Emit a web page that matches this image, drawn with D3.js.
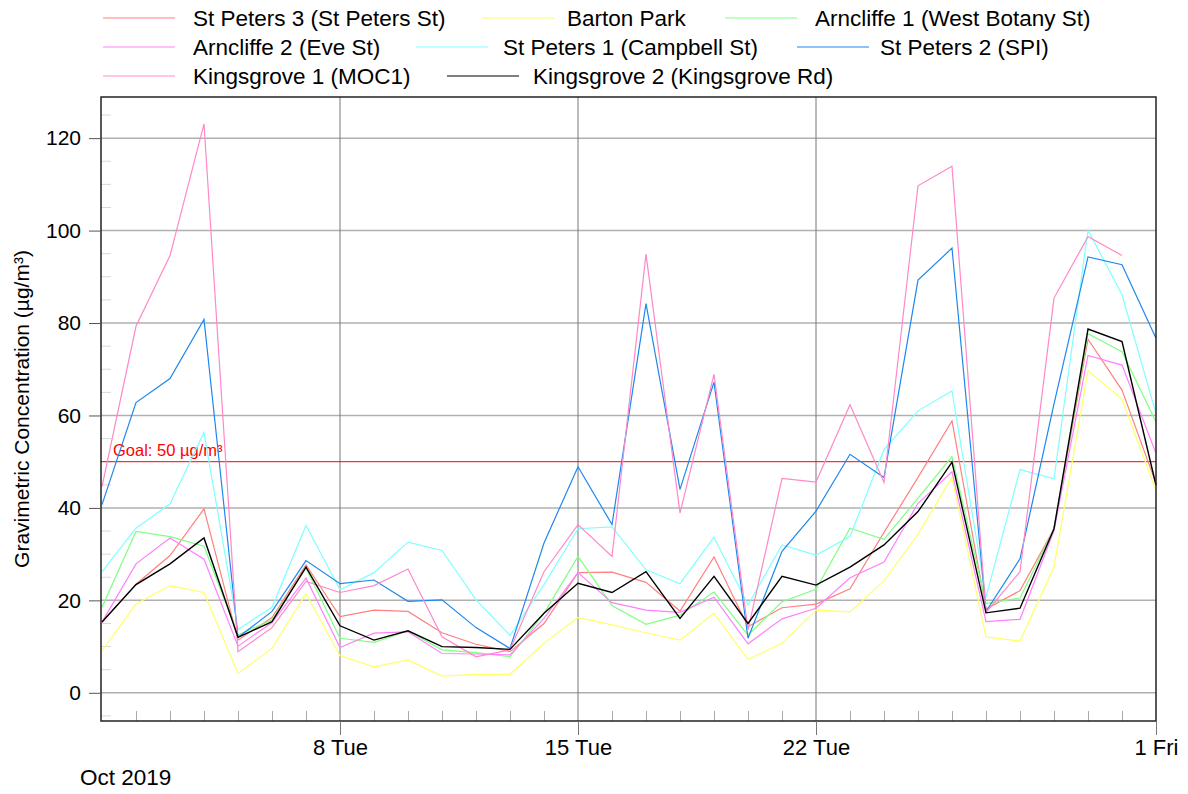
<!DOCTYPE html>
<html lang="en">
<head>
    <meta charset="UTF-8">
    <title>Gravimetric Concentration, Oct 2019</title>
    <script src="https://d3js.org/d3.v7.min.js"></script>
    <style>
        body { margin: 0; background: #fff; font-family: "Liberation Sans", Arial, sans-serif; }
        .series { fill: none; stroke-width: 1.2; stroke-linejoin: miter; }
        .axis text { font-family: "Liberation Sans", Arial, sans-serif; fill: #000; }
    </style>
</head>
<body>
<div id="chart"></div>
<script>
// Daily values, 1 Oct 2019 .. 1 Nov 2019
const days = d3.timeDay.range(new Date(2019, 9, 1), new Date(2019, 10, 2));

const seriesNames = [
    'St Peters 3 (St Peters St)', 'Barton Park', 'Arncliffe 1 (West Botany St)',
    'Arncliffe 2 (Eve St)', 'St Peters 1 (Campbell St)', 'St Peters 2 (SPI)',
    'Kingsgrove 1 (MOC1)', 'Kingsgrove 2 (Kingsgrove Rd)'
];
const seriesColors = ['#ff8080', '#ffff66', '#80ff80', '#ff80ff', '#80ffff', '#1e88ee', '#ff88c8', '#000000'];

const stPeters3   = [15.3, 23.5, 29.7, 39.8, 11.4, 16.3, 27.7, 16.5, 17.9, 17.6, 13.0, 10.5, 8.9, 15.0, 26.0, 26.1, 23.9, 17.7, 29.4, 14.3, 18.4, 19.2, 22.5, 34.7, 46.6, 58.8, 18.1, 22.1, 35.5, 76.5, 65.5, 45.3];
const bartonPark  = [9.1, 19.2, 23.2, 21.7, 4.2, 9.6, 21.5, 8.0, 5.6, 7.1, 3.6, 4.0, 4.0, 10.7, 16.3, 14.7, 13.0, 11.4, 17.2, 7.2, 10.7, 17.9, 17.5, 24.2, 34.3, 46.6, 12.1, 11.2, 27.2, 69.7, 63.5, 43.8];
const arncliffe1  = [18.5, 34.9, 33.8, 31.7, 12.5, 15.8, 27.0, 11.8, 10.9, 13.4, 9.3, 8.7, 7.8, 17.2, 29.5, 18.9, 14.8, 16.8, 21.8, 12.5, 19.7, 22.4, 35.6, 33.2, 42.1, 51.1, 19.3, 20.5, 35.5, 77.7, 73.8, 58.6];
const arncliffe2  = [15.3, 27.9, 33.5, 28.9, 10.1, 15.2, 24.8, 9.8, 12.9, 13.2, 8.5, 8.4, 8.2, 16.1, 26.0, 19.5, 17.9, 17.4, 20.7, 10.6, 16.0, 18.3, 24.9, 28.3, 41.0, 47.8, 15.4, 15.9, 35.1, 73.0, 70.9, 51.8];
const stPeters1   = [26.2, 35.6, 40.9, 56.3, 13.7, 18.5, 36.2, 22.3, 26.0, 32.6, 30.8, 20.1, 12.4, 23.4, 35.5, 35.9, 26.6, 23.6, 33.7, 19.0, 32.0, 29.8, 33.8, 52.6, 61.0, 65.3, 20.7, 48.3, 46.3, 100.1, 86.1, 60.4];
const stPeters2   = [40.7, 62.8, 68.0, 80.8, 12.0, 17.6, 28.6, 23.6, 24.4, 19.8, 20.1, 14.1, 9.6, 32.4, 48.9, 36.4, 84.2, 44.0, 67.2, 11.8, 30.6, 39.3, 51.6, 46.6, 89.3, 96.2, 17.6, 29.0, 62.5, 94.3, 92.6, 76.7];
const kingsgrove1 = [44.6, 79.3, 94.6, 123.1, 8.9, 14.1, 24.1, 21.7, 23.2, 26.8, 12.1, 7.8, 9.3, 26.2, 36.4, 29.5, 94.9, 38.9, 68.9, 13.6, 46.4, 45.6, 62.3, 45.5, 109.7, 113.9, 17.4, 26.2, 85.4, 98.7, 94.6, null];
const kingsgrove2 = [15.3, 23.4, 27.9, 33.5, 12.0, 15.4, 27.2, 14.5, 11.4, 13.4, 10.0, 9.8, 9.4, 17.2, 23.7, 21.7, 26.2, 16.1, 25.2, 15.0, 25.2, 23.3, 27.2, 32.0, 39.2, 49.9, 17.3, 18.3, 35.5, 78.7, 76.0, 44.9];

const seriesValues = [stPeters3, bartonPark, arncliffe1, arncliffe2, stPeters1, stPeters2, kingsgrove1, kingsgrove2];

const yTicks = [0, 20, 40, 60, 80, 100, 120];
const majorDays = [new Date(2019, 9, 8), new Date(2019, 9, 15), new Date(2019, 9, 22), new Date(2019, 10, 1)];
const goalValue = 50;

// Layout
const W = 1188, H = 794;
const plot = { left: 101, right: 1156, top: 97, bottom: 721 };

const svg = d3.select('#chart').append('svg')
    .attr('width', W)
    .attr('height', H);

const x = d3.scaleTime()
    .domain([new Date(2019, 9, 1), new Date(2019, 10, 1)])
    .range([102, plot.right]);
const y = d3.scaleLinear()
    .domain([-6.1, 128.9])
    .range([plot.bottom, plot.top]);

// minor y ticks (every 5)
const minorY = d3.range(-5, 130, 5).filter(v => v % 20 !== 0);
svg.append('g')
    .selectAll('line')
    .data(minorY)
  .enter().append('line')
    .attr('x1', plot.left).attr('x2', plot.left + 10)
    .attr('y1', d => y(d)).attr('y2', d => y(d))
    .style('stroke', '#d8d8d8').style('stroke-width', 1);

// horizontal grid
svg.append('g')
    .selectAll('line')
    .data(yTicks)
  .enter().append('line')
    .attr('x1', plot.left).attr('x2', plot.right)
    .attr('y1', d => y(d)).attr('y2', d => y(d))
    .style('stroke', '#b0b0b0').style('stroke-width', 1.5);

// vertical grid at weekly/major days
svg.append('g')
    .selectAll('line')
    .data(majorDays.slice(0, 3))
  .enter().append('line')
    .attr('x1', d => x(d)).attr('x2', d => x(d))
    .attr('y1', plot.top).attr('y2', plot.bottom)
    .style('stroke', '#777').style('stroke-width', 1);

// minor x ticks (every day)
const minorDays = days.filter(d => !majorDays.some(m => +m === +d) && +d !== +days[0]);
svg.append('g')
    .attr('class', 'axis')
    .attr('transform', `translate(0,${plot.bottom})`)
    .call(d3.axisBottom(x).tickValues(minorDays).tickSize(-10).tickFormat(''))
    .call(g => g.select('.domain').remove())
    .call(g => g.selectAll('.tick line').style('stroke', '#aaa'));

// goal line
svg.append('line')
    .attr('x1', plot.left).attr('x2', plot.right)
    .attr('y1', y(goalValue)).attr('y2', y(goalValue))
    .style('stroke', '#ff0000').style('stroke-width', 1);
svg.append('text')
    .attr('x', 113)
    .attr('y', y(goalValue) - 6)
    .style('font-size', '16.5px')
    .style('fill', '#ff0000')
    .text('Goal: 50 µg/m³');

// series
const line = d3.line()
    .defined(d => d[1] != null)
    .x(d => x(d[0]))
    .y(d => y(d[1]));

svg.append('g')
    .selectAll('path')
    .data(seriesValues)
  .enter().append('path')
    .attr('class', 'series')
    .attr('d', vals => line(days.map((d, i) => [d, vals[i]])))
    .style('stroke', (d, i) => seriesColors[i])
    .style('stroke-width', (d, i) => i === 7 ? 1.4 : 1.2);

// frame
svg.append('rect')
    .attr('x', plot.left).attr('y', plot.top)
    .attr('width', plot.right - plot.left).attr('height', plot.bottom - plot.top)
    .style('fill', 'none').style('stroke', '#222').style('stroke-width', 1.5);

// y axis
svg.append('g')
    .attr('class', 'axis')
    .attr('transform', `translate(${plot.left},0)`)
    .call(d3.axisLeft(y).tickValues(yTicks).tickSize(12).tickPadding(8))
    .call(g => g.select('.domain').remove())
    .call(g => g.selectAll('.tick line').style('stroke', '#555'))
    .call(g => g.selectAll('.tick text').style('font-size', '21px'));

// x axis
svg.append('g')
    .attr('class', 'axis')
    .attr('transform', `translate(0,${plot.bottom})`)
    .call(d3.axisBottom(x).tickValues(majorDays).tickSize(14).tickPadding(4).tickFormat(d3.timeFormat('%-d %a')))
    .call(g => g.select('.domain').remove())
    .call(g => g.selectAll('.tick line').style('stroke', '#777'))
    .call(g => g.selectAll('.tick text').style('font-size', '22px'));

svg.append('text')
    .attr('x', 80)
    .attr('y', 785)
    .style('font-size', '22.5px')
    .text('Oct 2019');

svg.append('text')
    .attr('transform', 'rotate(-90)')
    .attr('x', -(plot.top + plot.bottom) / 2)
    .attr('y', 29)
    .style('text-anchor', 'middle')
    .style('font-size', '21px')
    .text('Gravimetric Concentration (µg/m³)');

// legend
const legendPos = [
    [103, 193, 18], [482, 567, 18], [725, 815, 18],
    [103, 193, 47], [416, 503, 47], [797, 880, 47],
    [103, 193, 76], [447, 533, 76]
];
const legend = svg.append('g')
    .selectAll('g')
    .data(seriesNames)
  .enter().append('g');
legend.append('line')
    .attr('x1', (d, i) => legendPos[i][0])
    .attr('x2', (d, i) => legendPos[i][0] + 72)
    .attr('y1', (d, i) => legendPos[i][2])
    .attr('y2', (d, i) => legendPos[i][2])
    .style('stroke', (d, i) => seriesColors[i])
    .style('stroke-width', 1.2);
legend.append('text')
    .attr('x', (d, i) => legendPos[i][1])
    .attr('y', (d, i) => legendPos[i][2] + 8)
    .style('font-size', '22.5px')
    .text(d => d);
</script>
</body>
</html>
